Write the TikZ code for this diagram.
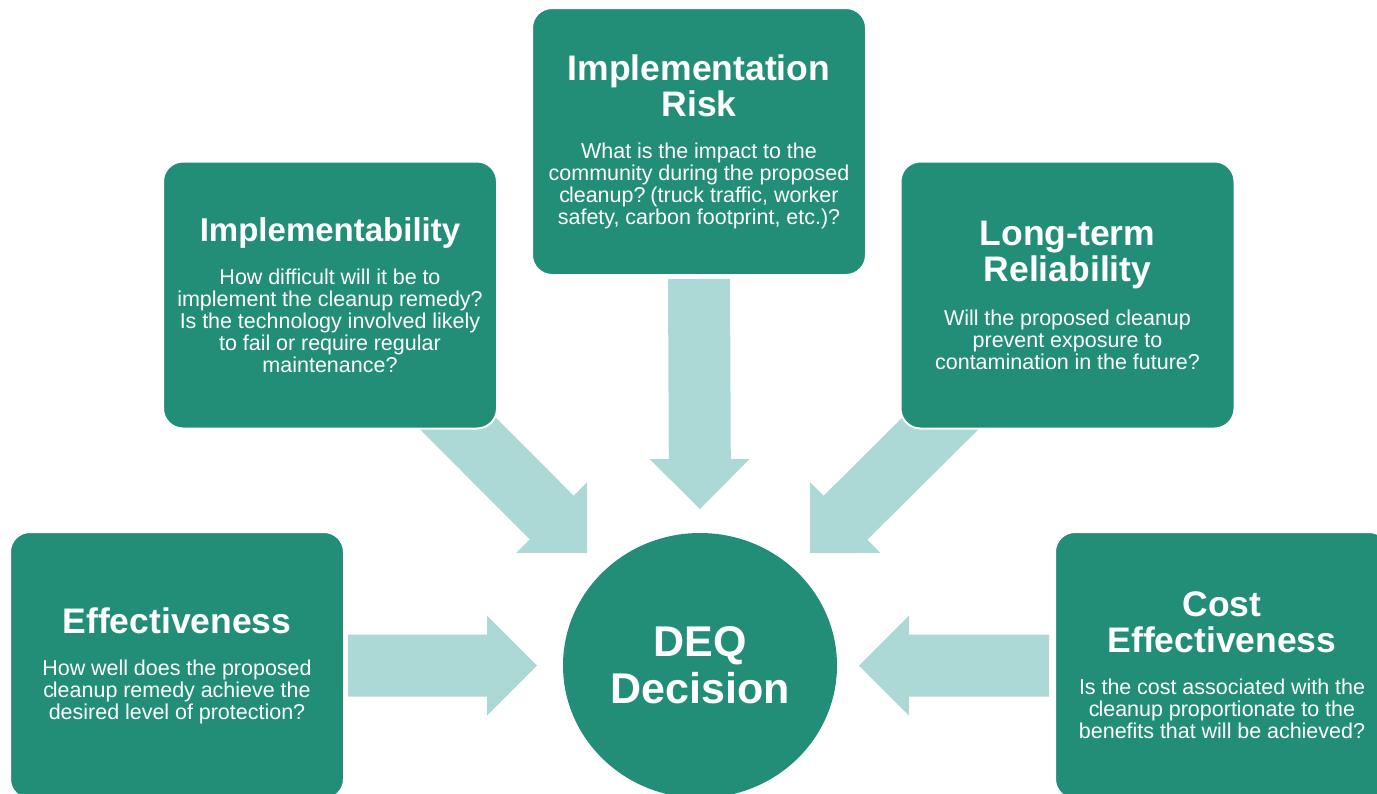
\documentclass[tikz,border=0pt]{standalone}
\usepackage{fontspec}
\setmainfont{Liberation Sans}
\usetikzlibrary{calc,shapes.geometric,backgrounds}
\setlength{\parindent}{0pt}
\definecolor{deqgreen}{RGB}{35,142,120}
\definecolor{deqarrow}{RGB}{172,216,213}
\newcommand{\tfont}{\bfseries\fontsize{35.5}{36}\selectfont}
\newcommand{\bfont}{\fontsize{21.5}{22}\selectfont\spaceskip=0.27em\relax}
\newcommand{\cl}{c\kern-1.2pt l}
\newcommand{\fatarrow}[2]{%
  \coordinate (#1-b) at ($(#2)!50pt!(#1)$);
  \fill[deqarrow] ($(#1)!31pt!90:(#2)$) -- ($(#1-b)!31pt!90:(#2)$) -- ($(#1-b)!50pt!90:(#2)$)
    -- (#2) -- ($(#1-b)!50pt!-90:(#2)$) -- ($(#1-b)!31pt!-90:(#2)$) -- ($(#1)!31pt!-90:(#2)$) -- cycle;
}
\begin{document}
\begin{tikzpicture}[x=1pt,y=-1pt,
  box/.style={draw=white,line width=2pt,fill=deqgreen,rounded corners=20pt,minimum width=334pt,minimum height=267pt,
    text width=330pt,align=center,text=white,inner sep=0pt,outer sep=0pt},
  hub/.style={ellipse,fill=deqgreen,minimum width=274pt,minimum height=265pt,inner sep=0pt,outer sep=0pt,
    align=center,text=white,font=\bfseries\fontsize{43}{47}\selectfont}]
\clip (0,0) rectangle (1377,793);
\node[box] (risk) at (699,141.5) {{\tfont Implementation\par Risk\par}\vspace{20pt}
  {\bfont What is the impact to the\par community during the proposed\par \cl eanup? (truck traffic, worker\par safety, carbon footprint, etc.)?\par}};
\node[box] (impl) at (330,295) {{\bfseries\fontsize{33}{36}\selectfont Implementability\par}\vspace{20pt}
  {\bfont How difficult will it be to\par implement the cleanup remedy?\par Is the technology involved likely\par to fail or require regular\par maintenance?\par}};
\node[box] (rel) at (1067.5,295) {{\tfont Long-term\par Reliability\par}\vspace{20pt}
  {\bfont Will the proposed cleanup\par prevent exposure to\par contamination in the future?\par}};
\node[box] (eff) at (177,665.5) {{\tfont Effectiveness\par}\vspace{20pt}
  {\bfont How well does the proposed\par \cl eanup remedy achieve the\par desired level of protection?\par}};
\node[box] (cost) at (1222,665.5) {{\tfont Cost\par Effectiveness\par}\vspace{20pt}
  {\bfont Is the cost associated with the\par \cl eanup proportionate to the\par benefits that will be achieved?\par}};
\node[hub] (deq) at (700,665.5) {DEQ\\Decision};
\coordinate (riskout) at ($(risk.south)+(0,4)$);
\coordinate (riskin) at ($(deq.north)+(0,-24)$);
\coordinate (implout) at ($(impl.south east)+(-62,-28)$);
\coordinate (implin) at ($(deq.center)+(-113,-112.5)$);
\coordinate (relout) at ($(rel.south west)+(60,-25)$);
\coordinate (relin) at ($(deq.center)+(110,-112.5)$);
\coordinate (effout) at ($(eff.east)+(4,0)$);
\coordinate (effin) at ($(deq.west)+(-26,0)$);
\coordinate (costout) at ($(cost.west)+(-6,0)$);
\coordinate (costin) at ($(deq.east)+(22,0)$);
\begin{scope}[on background layer]
\fatarrow{riskout}{riskin}
\fatarrow{implout}{implin}
\fatarrow{relout}{relin}
\fatarrow{effout}{effin}
\fatarrow{costout}{costin}
\end{scope}
\end{tikzpicture}
\end{document}
